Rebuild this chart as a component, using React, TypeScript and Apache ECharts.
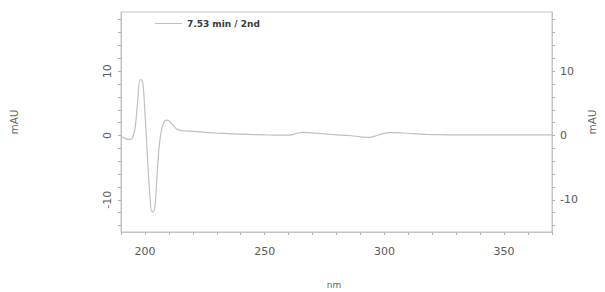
import React, { useEffect, useRef } from "react";
import * as echarts from "echarts";

const wavelengths = [
  190, 191, 192, 193, 194, 195, 196, 197, 198, 199, 200, 201, 202, 203, 204, 205, 206, 207, 208, 209,
  210, 211, 212, 213, 214, 215, 217, 220, 225, 230, 235, 240, 245, 250, 255, 260, 263, 266, 270, 275,
  280, 285, 290, 293, 296, 299, 302, 306, 310, 315, 320, 330, 340, 350, 360, 370,
];
const absorbance = [
  -0.2, -0.3, -0.5, -0.6, -0.6, -0.2, 1.5, 5.5, 8.7, 8.4, 3.5, -3.0, -9.0, -11.9, -11.5, -6.5, -1.5, 1.0, 2.1, 2.4,
  2.3, 1.9, 1.5, 1.1, 0.9, 0.8, 0.7, 0.65, 0.5, 0.35, 0.3, 0.2, 0.15, 0.1, 0.05, 0.05, 0.3, 0.5, 0.4, 0.25,
  0.1, 0.0, -0.2, -0.3, -0.1, 0.25, 0.45, 0.45, 0.35, 0.2, 0.15, 0.1, 0.1, 0.1, 0.1, 0.1,
];
const seriesName = "7.53 min / 2nd";
const xTicks = [190, 200, 210, 220, 230, 240, 250, 260, 270, 280, 290, 300, 310, 320, 330, 340, 350, 360, 370];
const xLabels = [200, 250, 300, 350];
const yTicks = [-14, -12, -10, -8, -6, -4, -2, 0, 2, 4, 6, 8, 10, 12, 14, 16, 18];
const yLabels = [-10, 0, 10];

const FONT = "DejaVu Sans";
const AXIS_COLOR = "#c4c4c4";
const TICK_COLOR = "#b0b0b0";
const TEXT_COLOR = "#5a5a5a";

export default function App() {
  const ref = useRef<HTMLDivElement>(null);
  useEffect(() => {
    if (!ref.current) return;
    const chart = echarts.init(ref.current, null, { renderer: "svg" });
    const yAxisCommon = (pos: "left" | "right") => ({
      type: "value",
      position: pos,
      min: -15,
      max: 19.2,
      splitLine: { show: false },
      axisLine: { show: true, lineStyle: { color: AXIS_COLOR, width: 1 } },
      axisTick: { show: true, inside: false, length: 3, customValues: yTicks, lineStyle: { color: TICK_COLOR, width: 1 } },
      axisLabel: {
        customValues: yLabels,
        color: TEXT_COLOR,
        fontFamily: FONT,
        fontSize: 11,
        margin: 8,
        rotate: pos === "left" ? 90 : 0,
      },
    });
    chart.setOption({
      animation: false,
      backgroundColor: "#ffffff",
      grid: { left: 121, top: 12, right: 53, bottom: 60, show: true, borderColor: AXIS_COLOR, borderWidth: 1 },
      legend: {
        show: true,
        left: 150,
        top: 14,
        itemWidth: 27,
        itemHeight: 14,
        itemGap: 10,
        data: [{ name: seriesName, icon: "path://M0,7 L27,7 L27,8 L0,8 Z" }],
        textStyle: { color: "#3a3a3a", fontFamily: FONT, fontSize: 9, fontWeight: "bold", padding: [0, 0, 0, 0] },
      },
      xAxis: {
        type: "value",
        min: 190,
        max: 370,
        splitLine: { show: false },
        axisLine: { show: true, onZero: false, lineStyle: { color: AXIS_COLOR, width: 1 } },
        axisTick: { show: true, inside: false, length: 3, customValues: xTicks, lineStyle: { color: TICK_COLOR, width: 1 } },
        axisLabel: { customValues: xLabels, color: TEXT_COLOR, fontFamily: FONT, fontSize: 11, margin: 14 },
      },
      yAxis: [yAxisCommon("left"), yAxisCommon("right")],
      graphic: [
        {
          type: "text",
          x: 14,
          y: 122,
          rotation: Math.PI / 2,
          style: { text: "mAU", fill: "#666", font: `10.5px "${FONT}"`, align: "center", verticalAlign: "middle" },
        },
        {
          type: "text",
          x: 592,
          y: 122,
          rotation: Math.PI / 2,
          style: { text: "mAU", fill: "#666", font: `10.5px "${FONT}"`, align: "center", verticalAlign: "middle" },
        },
        {
          type: "text",
          x: 334,
          y: 285,
          style: { text: "nm", fill: "#666", font: `9px "${FONT}"`, align: "center", verticalAlign: "middle" },
        },
      ],
      series: [
        {
          name: seriesName,
          type: "line",
          yAxisIndex: 0,
          data: wavelengths.map((w, i) => [w, absorbance[i]]),
          smooth: 0.4,
          showSymbol: false,
          symbol: "none",
          lineStyle: { color: "#c0c0c0", width: 1.2 },
          itemStyle: { color: "#c0c0c0" },
        },
      ],
    });
    return () => chart.dispose();
  }, []);
  return <div ref={ref} style={{ position: "fixed", left: 0, top: 0, width: 605, height: 292 }} />;
}
